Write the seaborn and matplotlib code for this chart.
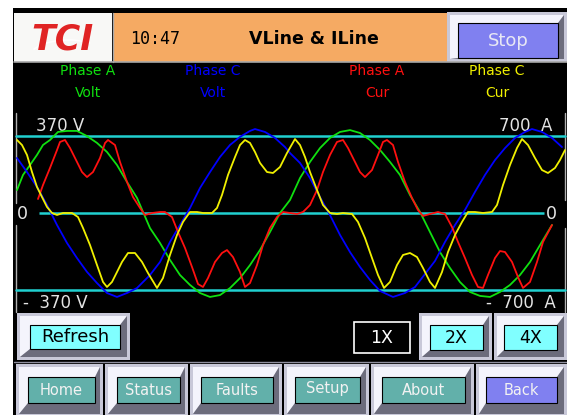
import matplotlib
matplotlib.use("Agg")
import matplotlib.pyplot as plt
from matplotlib.patches import Rectangle, Polygon, Arc
import seaborn as sns

# screen column of each sample and the value
va_x = [17, 23, 30, 37, 43, 50, 58, 67, 77, 87, 97, 107, 117, 127, 137, 150, 160, 170, 180, 190,
        200, 210, 220, 230, 240, 250, 260, 270, 280, 290, 300, 310, 320, 330, 340, 350, 360, 370, 380, 390,
        400, 410, 420, 430, 440, 450, 460, 470, 480, 490, 500, 510, 520, 530, 540, 552]
va_volt = [111, 184, 232, 281, 329, 353, 392, 397, 397, 372, 339, 295, 232, 150, 73, -73, -145, -227, -300, -348,
           -387, -406, -397, -363, -315, -252, -179, -92, 0, 63, 169, 247, 314, 363, 392, 401, 387, 353, 305, 247,
           184, 87, 5, -92, -189, -266, -334, -382, -401, -406, -382, -348, -300, -237, -155, -58]

vc_x = [17, 27, 37, 47, 57, 67, 77, 87, 97, 107, 117, 127, 137, 150, 160, 170, 180, 190, 200, 210,
        220, 230, 240, 250, 255, 265, 275, 285, 290, 300, 310, 320, 330, 340, 350, 360, 370, 380, 393, 405,
        415, 425, 435, 445, 455, 465, 475, 485, 495, 505, 515, 525, 532, 542, 552, 562]
vc_volt = [266, 198, 126, 39, -58, -145, -218, -285, -339, -387, -406, -387, -363, -300, -237, -140, -58, 24, 121, 198,
           271, 329, 368, 397, 406, 392, 363, 319, 290, 242, 169, 77, -10, -106, -189, -261, -324, -377, -406, -387,
           -358, -295, -232, -140, -58, 15, 102, 184, 256, 314, 363, 392, 406, 392, 363, 319]

ia_x = [38, 43, 50, 57, 60, 65, 70, 77, 82, 87, 93, 100, 105, 108, 115, 120, 127, 133, 140, 145,
        152, 160, 165, 172, 178, 185, 192, 198, 203, 208, 215, 222, 227, 233, 240, 245, 250, 257, 263, 270,
        277, 283, 290, 297, 303, 310, 317, 323, 330, 337, 343, 348, 355, 360, 365, 372, 378, 383, 387, 393,
        398, 405, 412, 418, 423, 430, 438, 445, 452, 458, 465, 472, 478, 483, 488, 495, 500, 505, 512, 518,
        523, 530, 537, 543, 552]
ia_amp = [128, 256, 412, 576, 650, 668, 595, 467, 375, 329, 375, 503, 640, 668, 622, 467, 284, 146, 46, -18,
          0, 9, 9, -37, -174, -320, -494, -650, -677, -595, -448, -366, -339, -403, -540, -677, -641, -476, -293, -137,
          -37, 9, 0, -9, 9, 73, 210, 375, 531, 650, 668, 595, 467, 375, 329, 393, 531, 650, 668, 622,
          467, 284, 137, 27, -27, -9, 9, -9, -128, -265, -412, -567, -677, -686, -567, -412, -348, -357, -448, -586,
          -686, -631, -448, -265, -110]

ic_x = [17, 22, 27, 32, 37, 42, 47, 52, 57, 63, 72, 78, 83, 90, 97, 103, 107, 112, 117, 122,
        128, 135, 142, 148, 157, 163, 170, 177, 183, 190, 197, 203, 212, 217, 222, 228, 235, 240, 245, 250,
        255, 260, 267, 273, 280, 287, 295, 300, 305, 310, 317, 323, 330, 337, 343, 352, 358, 365, 372, 378,
        384, 390, 397, 403, 410, 417, 423, 430, 435, 442, 448, 455, 462, 468, 475, 483, 492, 497, 503, 510,
        517, 522, 528, 535, 542, 548, 555, 560, 565]
ic_amp = [668, 622, 531, 375, 238, 146, 55, 0, -18, 0, 0, -37, -137, -293, -476, -631, -677, -631, -540, -448,
          -366, -366, -448, -549, -686, -595, -384, -201, -82, 9, 9, 0, 0, 46, 165, 348, 512, 622, 668, 641,
          558, 458, 375, 366, 421, 549, 677, 622, 512, 375, 210, 73, 0, -9, 0, -9, -82, -229, -412, -567,
          -686, -631, -476, -384, -366, -403, -503, -631, -686, -540, -357, -201, -82, 9, 9, 0, 9, 73, 256, 439,
          595, 677, 622, 503, 393, 366, 412, 485, 576]

v_full = 370
i_full = 700

trace_colors = ["#10E010", "#0000FF", "#FF1010", "#F0F000"]
legend_names = ["Phase A", "Phase C", "Phase A", "Phase C"]
legend_units = ["Volt", "Volt", "Cur", "Cur"]

nav_labels = ["Home", "Status", "Faults", "Setup", "About", "Back"]
zoom_labels = ["1X", "2X", "4X"]

W, H = 567, 415

sns.set_theme(style="white")
plt.rcParams["font.family"] = ["DejaVu Sans"]

fig = plt.figure(figsize=(W / 100, H / 100), dpi=100)

# background axes in screen pixels (y down) for the panel widgets
bg = fig.add_axes([0, 0, 1, 1])
bg.set_xlim(0, W)
bg.set_ylim(H, 0)
bg.axis("off")


def box(x0, y0, x1, y1, fc, ec="none", lw=0):
    bg.add_patch(Rectangle((x0, y0), x1 - x0, y1 - y0, fc=fc, ec=ec, lw=lw))


def button(outer, face, fc, label, tcolor, fs, dy=0):
    x0, y0, x1, y1 = outer
    fx0, fy0, fx1, fy1 = face
    box(x0, y0, x1, y1, "#C8C8D8")
    bg.add_patch(Polygon([(x0 + 3, y0 + 3), (x1 - 3, y0 + 3), (fx1, fy0), (fx0, fy0),
                          (fx0, fy1), (x0 + 3, y1 - 3)], fc="#F4F4FC", ec="none"))
    bg.add_patch(Polygon([(x1 - 3, y0 + 3), (x1 - 3, y1 - 3), (x0 + 3, y1 - 3), (fx0, fy1),
                          (fx1, fy1), (fx1, fy0)], fc="#6C6C7C", ec="none"))
    box(fx0, fy0, fx1, fy1, fc, "black", 0.8)
    bg.text((fx0 + fx1) / 2, (fy0 + fy1) / 2 + dy, label, color=tcolor, fontsize=fs,
            ha="center", va="center")


# device frame
box(13, 8, W, H, "black")

# header
box(14, 13, 112, 62, "#F8F8F6")
box(113, 13, 447, 62, "#F5AA63")
bg.plot([14, W], [62.5, 62.5], color="#A8A8A8", lw=1.2)
bg.plot([112.5, 112.5], [13, 62], color="#A8A8A8", lw=1)
bg.text(62, 39, "TCI", color="#E02424", fontsize=25, fontweight="bold", fontstyle="italic",
        ha="center", va="center")
bg.add_patch(Arc((68, 62), 84, 44, theta1=200, theta2=320, color="white", lw=1.1))
bg.text(155, 39, "10:47", color="black", fontsize=12, family="DejaVu Sans Mono",
        ha="center", va="center")
bg.text(314, 39, "VLine & ILine", color="black", fontsize=12.5, fontweight="bold",
        ha="center", va="center")
button((447, 12, W, 62), (458, 23, 558, 58), "#8080F0", "Stop", "#E8E8F4", 13)

# trace legend
for i, (name, unit) in enumerate(zip(legend_names, legend_units)):
    lx = [88, 213, 377, 497][i]
    bg.text(lx, 71, name, color=trace_colors[i], fontsize=10, ha="center", va="center")
    bg.text(lx, 93, unit, color=trace_colors[i], fontsize=10, ha="center", va="center")

# scale labels
txt = "#E4E4E4"
bg.text(36, 126, f"{v_full} V", color=txt, fontsize=12, ha="left", va="center")
bg.text(552, 126, f"{i_full}  A", color=txt, fontsize=12, ha="right", va="center")
bg.text(23, 303, f"-  {v_full} V", color=txt, fontsize=12, ha="left", va="center")
bg.text(556, 303, f"-  {i_full}  A", color=txt, fontsize=12, ha="right", va="center")
bg.text(22, 214, "0", color=txt, fontsize=12.5, ha="center", va="center")
bg.text(551, 214, "0", color=txt, fontsize=12.5, ha="center", va="center")
bg.plot([15.5, 15.5], [113, 203], color="#B0B0B0", lw=1)
bg.plot([15.5, 15.5], [225, 312], color="#B0B0B0", lw=1)
bg.plot([564.5, 564.5], [113, 200], color="#B0B0B0", lw=1)
bg.plot([564.5, 564.5], [228, 312], color="#B0B0B0", lw=1)

# zoom / refresh row
button((17, 313, 130, 360), (30, 325, 120, 349), "#80FFFF", "Refresh", "black", 13)
box(354, 322, 410, 353, "black", "white", 1.2)
bg.text(382, 337.5, zoom_labels[0], color="white", fontsize=12.5, ha="center", va="center")
button((419, 313, 492, 360), (430, 325, 483, 350), "#80FFFF", zoom_labels[1], "black", 12.5)
button((494, 313, W, 360), (504, 325, 557, 350), "#80FFFF", zoom_labels[2], "black", 12.5)

# navigation row
bg.plot([14, W], [362, 362], color="#9090A0", lw=1)
nav_outer = [(16, 103), (105, 188), (190, 282), (284, 369), (371, 474), (476, W)]
nav_face = [(28, 95), (117, 180), (201, 273), (295, 360), (382, 465), (486, 557)]
for k, name in enumerate(nav_labels):
    fc = "#8080F0" if name == "Back" else "#62B0AA"
    button((nav_outer[k][0], 364, nav_outer[k][1], H + 2), (nav_face[k][0], 377, nav_face[k][1], 403),
           fc, name, "#F2F2F2", 10.5, dy=-2 if name == "Setup" else 0)

# waveform axes: cyan lines sit at +/- full scale
half = 113 / 76.5
ax = fig.add_axes([0, (H - 326) / H, 1, 226 / H])
ax.set_xlim(0, W)
ax.set_ylim(-v_full * half, v_full * half)
ax2 = ax.twinx()
ax2.set_ylim(-i_full * half, i_full * half)
for a in (ax, ax2):
    a.axis("off")
    a.patch.set_visible(False)

cyan = "#20D0D0"
ax.axhline(v_full, xmin=16 / W, xmax=565 / W, color=cyan, lw=1.8)
ax.axhline(-v_full, xmin=16 / W, xmax=565 / W, color=cyan, lw=1.8)
ax.hlines(0, 39, 544, color=cyan, lw=1.8)

sns.lineplot(x=va_x, y=va_volt, ax=ax, color=trace_colors[0], lw=1.3, sort=False, estimator=None)
sns.lineplot(x=vc_x, y=vc_volt, ax=ax, color=trace_colors[1], lw=1.3, sort=False, estimator=None)
sns.lineplot(x=ia_x, y=ia_amp, ax=ax2, color=trace_colors[2], lw=1.3, sort=False, estimator=None)
sns.lineplot(x=ic_x, y=ic_amp, ax=ax2, color=trace_colors[3], lw=1.3, sort=False, estimator=None)
ax.set_xlim(0, W)
ax2.set_xlim(0, W)

fig.savefig("out.png", dpi=100)
